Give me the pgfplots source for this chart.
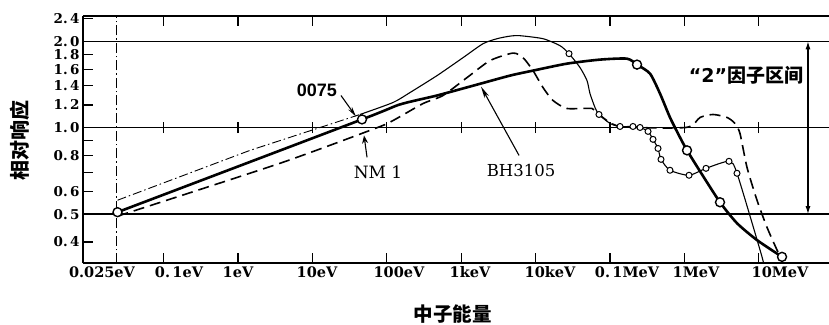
\documentclass[border=0pt]{standalone}
\usepackage{fontspec}
\usepackage{pgfplots}
\pgfplotsset{compat=1.18}
\usetikzlibrary{arrows.meta}
\setmainfont{DejaVu Serif}
\newfontfamily\cjk{Noto Sans CJK SC}
\newfontfamily\lsans{Liberation Sans}
\newfontfamily\dsans{DejaVu Sans}

\begin{document}
\begin{tikzpicture}
\path[use as bounding box] (0pt,0pt) rectangle (829pt,324pt);
\begin{axis}[
  at={(83pt,61pt)}, anchor=south west,
  scale only axis, width=746pt, height=247pt,
  xmode=log, ymode=log,
  xmin=0.00825, xmax=8.78e7, ymin=0.3379, ymax=2.45,
  axis x line*=box, axis y line*=left,
  axis line style={line width=1.4pt},
  y axis line style={-},
  tick align=inside,
  major tick length=10pt,
  tick style={line width=1.2pt, black},
  xminorticks=false, yminorticks=false,
  xtick={0.1,1,10,100,1000,10000,100000,1000000,10000000},
  xticklabels={},
  extra x ticks={0.01486,0.161,1,11.53,145.9,1313,15630,169200,1432000,19280000},
  extra x tick labels={0.025eV,0.\,1eV,1eV,10eV,100eV,1keV,10keV,0.\,1MeV,1MeV,10MeV},
  extra x tick style={major tick length=0pt, tick style={draw=none}},
  xticklabel style={font=\fontsize{14.5}{16}\selectfont\bfseries},
  ytick={0.4,0.5,0.6,0.7,0.8,0.9,1,1.2,1.4,1.6,1.8,2,2.4},
  yticklabels={0.\,4,0.\,5,0.\,6,,0.\,8,,1.\,0,1.\,2,1.\,4,1.\,6,1.\,8,2.\,0,2.\,4},
  ytick pos=left,
  yticklabel style={font=\fontsize{13.5}{15}\selectfont\bfseries},
  clip mode=individual,
]
% reference lines
\draw[line width=1.4pt] (axis cs:0.00825,2) -- (axis cs:8.78e7,2);
\draw[line width=1.4pt] (axis cs:0.00825,1) -- (axis cs:8.78e7,1);
\draw[line width=1.4pt] (axis cs:0.00825,0.5) -- (axis cs:8.78e7,0.5);
\draw[line width=1pt, dash pattern=on 10pt off 3pt on 1.5pt off 3pt] (axis cs:0.023,0.3379) -- (axis cs:0.023,2.45);
\pgfplotsinvokeforeach{0.1,1,10,100,1000,10000,100000,1000000,10000000}{
  \draw[line width=1.2pt] (axis cs:#1,1) ++(0pt,-5.5pt) -- ++(0pt,11pt);
}
% thin curve (dash-dot low part)
\addplot[line width=0.9pt, dash pattern=on 9pt off 3pt on 1.5pt off 3pt] coordinates {(0.024,0.559) (1.45,0.834) (43.6,1.112)};
% thin curve
\addplot[line width=1.1pt, smooth, tension=0.4] coordinates {(43.6,1.112) (121,1.224) (205,1.326) (473,1.519) (1057,1.754) (1963,1.962) (3029,2.042) (4529,2.085) (6166,2.092) (12570,2.042) (21290,1.931) (28110,1.811) (39530,1.620) (49100,1.459) (53830,1.315) (62840,1.176) (71120,1.112) (100000,1.035) (136300,1.010) (203600,1.010) (253100,1.002) (324300,0.971) (378400,0.911) (441900,0.847) (484500,0.776) (640000,0.711) (1153000,0.683) (1951000,0.722) (3975000,0.764) (5090000,0.694) (11040000,0.355) (11380000,0.333)};
% dashed curve (NM 1)
\addplot[line width=1.6pt, dash pattern=on 11pt off 6pt, smooth, tension=0.4] coordinates {(0.024,0.492) (3.67,0.752) (73.8,1.0) (121,1.059) (307,1.214) (569,1.295) (1197,1.495) (2438,1.713) (4966,1.82) (6771,1.754) (9226,1.581) (12570,1.380) (17140,1.244) (26430,1.167) (57280,1.167) (71120,1.112) (136300,1.010) (1051000,1.002) (1622000,1.086) (2423000,1.112) (3738000,1.086) (4785000,1.035) (5585000,0.955) (6935000,0.728) (9460000,0.559) (12880000,0.450) (17570000,0.375) (20510000,0.346)};
% thick curve (BH3105)
\addplot[line width=2.6pt, smooth, tension=0.4] coordinates {(0.024,0.508) (46.4,1.069) (150,1.205) (473,1.295) (1630,1.413) (4529,1.519) (9226,1.581) (26430,1.672) (73440,1.727) (169100,1.740) (230600,1.659) (345100,1.543) (469800,1.315) (640000,1.086) (873000,0.925) (1084000,0.834) (1622000,0.705) (3008000,0.550) (5090000,0.465) (9460000,0.406) (20510000,0.355)};
% thin circles
\addplot[only marks, mark=*, mark size=3pt, mark options={fill=white, draw=black, line width=1pt}] coordinates {(28110,1.811) (71120,1.112) (136300,1.010) (203600,1.010) (253100,1.002) (324300,0.971) (378400,0.911) (441900,0.847) (484500,0.776) (640000,0.711) (1153000,0.683) (1951000,0.722) (3975000,0.764) (5090000,0.694)};
% thick circles
\addplot[only marks, mark=*, mark size=4.5pt, mark options={fill=white, draw=black, line width=1.4pt}] coordinates {(0.024,0.508) (46.4,1.069) (230600,1.659) (1084000,0.834) (3008000,0.550) (20510000,0.355)};
% annotations
\draw[line width=1.1pt, -{Stealth[length=10pt,width=4.5pt]}] (axis cs:24.2,1.295) -- (axis cs:38.5,1.094);
\node[font=\lsans\bfseries\fontsize{18}{20}\selectfont] at (axis cs:11.5,1.347) {0075};
\draw[line width=1.1pt, -{Stealth[length=8pt,width=6pt]}] (axis cs:54.2,0.789) -- (axis cs:49.4,0.940);
\node[font=\fontsize{17}{19}\selectfont] at (axis cs:76.2,0.700) {NM 1};
\draw[line width=1.1pt, -{Stealth[length=12pt,width=5pt]}] (axis cs:5984,0.801) -- (axis cs:1845,1.391);
\node[font=\fontsize{16.5}{19}\selectfont] at (axis cs:6368,0.711) {BH3105};
\node[font=\fontsize{19}{21}\selectfont] at (axis cs:6730000,1.519) {{\dsans\bfseries “2”}{\cjk\bfseries 因子区间}};
\draw[line width=1.2pt, {Latex[length=8pt,width=5pt]}-{Latex[length=8pt,width=5pt]}] (axis cs:45800000,2) -- (axis cs:45800000,0.5);
\end{axis}
\node[rotate=90, font=\cjk\bfseries\fontsize{20}{22}\selectfont] at (20pt,183pt) {相对响应};
\node[font=\cjk\bfseries\fontsize{19.5}{22}\selectfont] at (452.5pt,10pt) {中子能量};
\end{tikzpicture}
\end{document}
